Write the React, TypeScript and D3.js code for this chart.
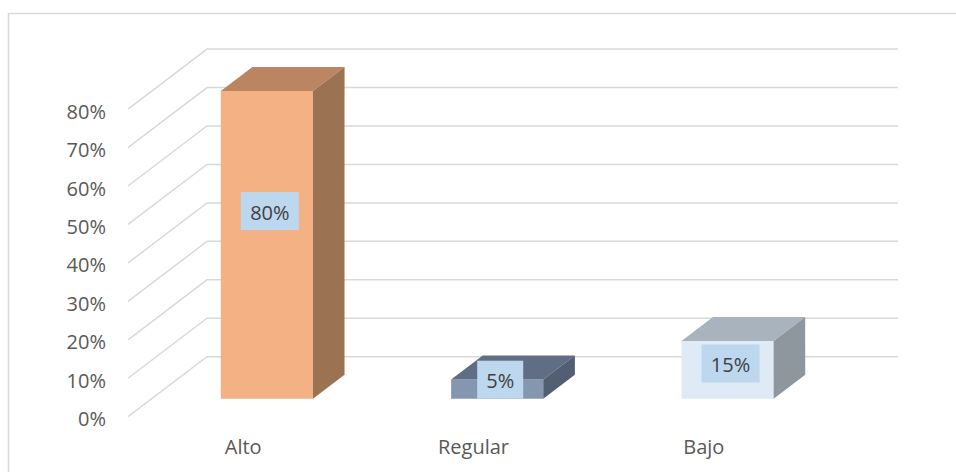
import React from "react";
import * as d3 from "d3";

const categories = ["Alto", "Regular", "Bajo"];
const values = [0.8, 0.05, 0.15];
const valueLabels = ["80%", "5%", "15%"];
const tickValues = [0, 0.1, 0.2, 0.3, 0.4, 0.5, 0.6, 0.7, 0.8];
const frontColors = ["#F4B183", "#8497B0", "#DEEBF7"];
const topColors = ["#BC8562", "#5F6E84", "#A9B3BD"];
const sideColors = ["#9C7352", "#525F73", "#8E969E"];

const W = 956;
const H = 472;
const FONT = "'Open Sans', 'Noto Sans', sans-serif";

export default function App() {
  const frontLeft = 128;
  const frontRight = 819;
  const floorFrontY = 416.7;
  const depthDx = 79;
  const depthDy = 60;
  const yS = d3.scaleLinear().domain([0, 0.8]).range([0, 307.6]);
  const xS = d3.scaleBand<string>().domain(categories).range([frontLeft, frontRight]).paddingInner(0).paddingOuter(0);
  const P = (x: number, v: number, d: number): [number, number] => [
    x + depthDx * d,
    floorFrontY - depthDy * d - yS(v),
  ];
  const pts = (arr: [number, number][]) => arr.map((p) => p.join(",")).join(" ");
  const dF = 0.3;
  const dB = 0.7;
  const barW = xS.bandwidth() * 0.4;
  const fmt = d3.format(".0%");

  return (
    <svg width={W} height={H} style={{ position: "absolute", left: 0, top: 0, display: "block", background: "#fff" }}>
      <path d={`M8.5,${H} V13.5 H${W}`} fill="none" stroke="#D9D9D9" strokeWidth={1.5} />
      {tickValues.map((t, i) => {
        const a = P(frontLeft, t, 0);
        const b = P(frontLeft, t, 1);
        const c = P(frontRight, t, 1);
        return (
          <g key={i}>
            <polyline points={pts([a, b, c])} fill="none" stroke="#D9D9D9" strokeWidth={1.5} />
            <text x={106} y={a[1] + 2} textAnchor="end" dominantBaseline="central" fontFamily={FONT} fontSize={20} fill="#595959">
              {fmt(t)}
            </text>
          </g>
        );
      })}
      {categories.map((c, i) => {
        const v = values[i];
        const cx = (xS(c) as number) + xS.bandwidth() / 2;
        const x1 = cx - barW / 2;
        const x2 = cx + barW / 2;
        const front = [P(x1, 0, dF), P(x2, 0, dF), P(x2, v, dF), P(x1, v, dF)];
        const top = [P(x1, v, dF), P(x2, v, dF), P(x2, v, dB), P(x1, v, dB)];
        const side = [P(x2, 0, dF), P(x2, v, dF), P(x2, v, dB), P(x2, 0, dB)];
        const bottomY = P(x1, 0, dF)[1];
        const topY = P(x1, v, dF)[1];
        const h = bottomY - topY;
        const label = valueLabels[i];
        const boxH = 38;
        const boxW = label.length * 12 + 22;
        let ly = bottomY - 0.61 * h;
        if (ly + boxH / 2 > bottomY) ly = bottomY - boxH / 2;
        const lx = (x1 + x2) / 2 + 3 + 23.7;
        return (
          <g key={c}>
            <polygon points={pts(front)} fill={frontColors[i]} />
            <polygon points={pts(top)} fill={topColors[i]} />
            <polygon points={pts(side)} fill={sideColors[i]} />
            <rect x={lx - boxW / 2} y={ly - boxH / 2} width={boxW} height={boxH} fill="#BDD7EE" />
            <text x={lx} y={ly + 1} textAnchor="middle" dominantBaseline="central" fontFamily={FONT} fontSize={20} fill="#404040">
              {label}
            </text>
            <text x={cx} y={454} textAnchor="middle" fontFamily={FONT} fontSize={20} fill="#595959">
              {c}
            </text>
          </g>
        );
      })}
    </svg>
  );
}
